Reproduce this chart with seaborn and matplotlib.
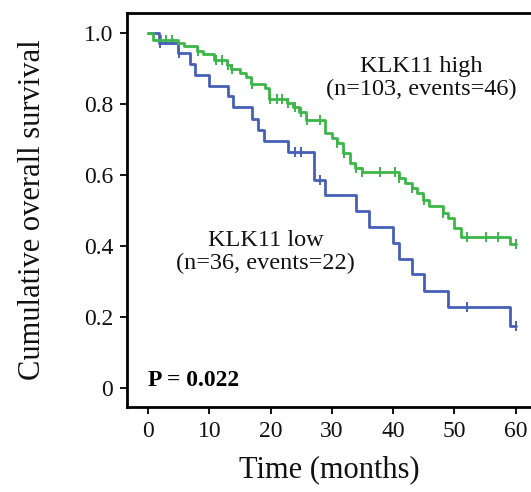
import matplotlib
matplotlib.use("Agg")
import matplotlib.pyplot as plt
import seaborn as sns
import pandas as pd

# ---- data ----
low_t = [0, 1.85, 4.8, 6.85, 7.6, 9.9, 13.0, 13.9, 16.9, 18.0, 18.9, 22.9, 27.0, 28.9,
         33.9, 36.1, 40.0, 40.9, 43.0, 45.1, 49.0, 59.05, 60.0]
low_s = [1.0, 0.972, 0.943, 0.913, 0.882, 0.851, 0.821, 0.790, 0.757, 0.727, 0.695, 0.663,
         0.586, 0.542, 0.499, 0.454, 0.409, 0.362, 0.320, 0.274, 0.229, 0.173, 0.173]
low_cens_t = [2.0, 5.0, 24.0, 25.0, 28.1, 52.0, 60.0]
low_cens_s = [0.972, 0.943, 0.663, 0.663, 0.586, 0.229, 0.173]

high_t = [0, 0.87, 4.95, 5.9, 7.9, 9.0, 10.8, 12.9, 13.6, 15.0, 15.9, 16.8, 19.0, 19.8,
          22.6, 23.7, 24.6, 25.7, 28.9, 30.0, 30.9, 31.8, 33.0, 33.8, 34.9, 41.0, 41.9,
          43.0, 43.9, 44.9, 45.9, 48.1, 49.0, 49.9, 51.0, 59.05, 60.0]
high_s = [1.0, 0.980, 0.971, 0.962, 0.949, 0.941, 0.924, 0.909, 0.897, 0.886, 0.877, 0.856,
          0.844, 0.813, 0.802, 0.790, 0.778, 0.754, 0.717, 0.703, 0.689, 0.661, 0.633, 0.619,
          0.607, 0.591, 0.576, 0.562, 0.548, 0.530, 0.511, 0.492, 0.478, 0.450, 0.425, 0.406,
          0.406]
high_cens_t = [2.1, 2.9, 3.85, 8.1, 11.1, 12.0, 13.0, 13.75, 16.9, 19.9, 21.0, 21.9, 22.9,
               24.0, 25.0, 25.9, 28.1, 30.9, 31.9, 33.9, 34.9, 37.8, 40.3, 41.0, 43.0, 45.1,
               48.2, 52.0, 55.1, 57.1, 60.0]
high_cens_s = [0.980, 0.980, 0.980, 0.949, 0.924, 0.924, 0.909, 0.897, 0.856, 0.813, 0.813,
               0.813, 0.802, 0.790, 0.778, 0.754, 0.754, 0.689, 0.661, 0.619, 0.607, 0.607,
               0.607, 0.591, 0.562, 0.530, 0.492, 0.425, 0.425, 0.425, 0.406]

x_ticks = [0, 10, 20, 30, 40, 50, 60]
y_ticks = [0, 0.2, 0.4, 0.6, 0.8, 1.0]
y_tick_labels = ["0", "0.2", "0.4", "0.6", "0.8", "1.0"]

high_label = "KLK11 high\n(n=103, events=46)"
low_label = "KLK11 low\n(n=36, events=22)"
p_text = "P = 0.022"

GREEN = "#3CB64A"
BLUE = "#4560B6"

# ---- plot ----
sns.set_theme(style="ticks")
plt.rcParams["font.family"] = ["Liberation Serif", "DejaVu Serif"]

fig = plt.figure(figsize=(5.31, 4.92), dpi=100)
ax = fig.add_axes([127 / 531, 85 / 492, 1 - 127 / 531, 394 / 492])

low_df = pd.DataFrame({"t": low_t, "s": low_s})
high_df = pd.DataFrame({"t": high_t, "s": high_s})
sns.lineplot(data=low_df, x="t", y="s", drawstyle="steps-post", color=BLUE, lw=2.0,
             sort=False, ax=ax)
sns.lineplot(data=high_df, x="t", y="s", drawstyle="steps-post", color=GREEN, lw=2.0,
             sort=False, ax=ax)
sns.scatterplot(x=low_cens_t, y=low_cens_s, marker="|", s=55, color=BLUE, linewidth=1.4,
                ax=ax)
sns.scatterplot(x=high_cens_t, y=high_cens_s, marker="|", s=55, color=GREEN, linewidth=1.4,
                ax=ax)

ax.set_xlim(-3.45, 62.5)
ax.set_ylim(-0.054, 1.056)
ax.set_xticks(x_ticks)
ax.set_yticks(y_ticks)
ax.set_yticklabels(y_tick_labels)
ax.tick_params(axis="both", labelsize=17, length=5, width=1.3, color="black",
               labelcolor="#111111", direction="out", pad=5)

for side in ["left", "bottom", "top"]:
    ax.spines[side].set_linewidth(2.0)
    ax.spines[side].set_color("black")
ax.spines["right"].set_visible(False)

ax.set_xlabel("Time (months)", fontsize=22, color="#111111")
ax.set_ylabel("Cumulative overall survival", fontsize=22, color="#111111")
ax.xaxis.set_label_coords(0.5, -0.160)
ax.xaxis.label.set_va("center")
ax.yaxis.set_label_coords(-0.233, 0.5)
ax.yaxis.label.set_va("center")

ax.text(44.6, 0.873, high_label, ha="center", va="center", fontsize=17.5,
        linespacing=1.15, color="#111111")
ax.text(19.2, 0.383, low_label, ha="center", va="center", fontsize=17.5,
        linespacing=1.15, color="#111111")
ax.text(0.0, 0.006, p_text, ha="left", va="baseline", fontsize=17, fontweight="bold",
        color="black")

fig.savefig("out.png", dpi=100)
